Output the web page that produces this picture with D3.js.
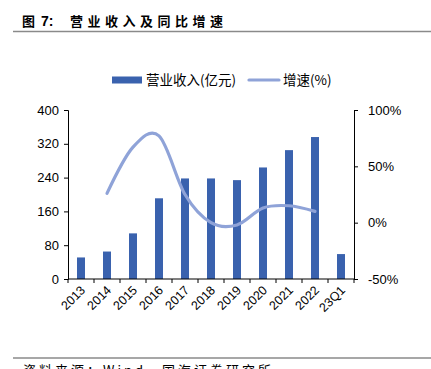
<!DOCTYPE html>
<html>
<head>
<meta charset="utf-8">
<script src="https://cdn.jsdelivr.net/npm/d3@7"></script>
<style>
  body { margin: 0; background: #fff; }
  svg { display: block; }
  .tick text { font-family: "Liberation Sans", Arial, sans-serif; font-size: 13px; fill: #000; }
  .domain, .tick line { stroke: #000; }
</style>
</head>
<body>
<div id="chart"></div>
<script>
var categories = ["2013", "2014", "2015", "2016", "2017", "2018", "2019", "2020", "2021", "2022", "23Q1"];
var revenue = [51, 65, 108, 191, 238, 238, 234, 264, 305, 336, 59];
var growth = [null, 26, 67, 77, 25, 0, -2, 13, 15, 10, null];
var leftTicks = [0, 80, 160, 240, 320, 400];
var rightTicks = [-50, 0, 50, 100];

var svgWidth = 431;
var svgHeight = 369;
var margin = { top: 110, right: 77, bottom: 90, left: 68 };
var width = svgWidth - margin.left - margin.right;
var height = svgHeight - margin.top - margin.bottom;

var cjk = "'Noto Sans CJK SC', sans-serif";

var svg = d3.select("#chart")
  .append("svg")
  .attr("width", svgWidth)
  .attr("height", svgHeight);

// title + rule
svg.append("text")
  .attr("x", 22)
  .attr("y", 26)
  .attr("font-family", cjk)
  .attr("font-weight", "bold")
  .attr("font-size", 13)
  .text("图");
svg.append("text")
  .attr("x", 41)
  .attr("y", 26)
  .attr("font-family", "'Liberation Sans', Arial, sans-serif")
  .attr("font-weight", "bold")
  .attr("font-size", 14)
  .text("7:");
svg.append("text")
  .attr("x", 70)
  .attr("y", 26)
  .attr("font-family", cjk)
  .attr("font-weight", "bold")
  .attr("font-size", 13)
  .attr("letter-spacing", 4.5)
  .text("营业收入及同比增速");

svg.append("line")
  .attr("x1", 13).attr("x2", 431)
  .attr("y1", 31.5).attr("y2", 31.5)
  .attr("stroke", "#8a8a8a")
  .attr("stroke-width", 1.5);

// footer
svg.append("line")
  .attr("x1", 13).attr("x2", 431)
  .attr("y1", 358).attr("y2", 358)
  .attr("stroke", "#8a8a8a")
  .attr("stroke-width", 1.5);

svg.append("text")
  .attr("x", 23)
  .attr("y", 375)
  .attr("font-family", cjk)
  .attr("font-size", 13)
  .attr("letter-spacing", 3)
  .text("资料来源：Wind，国海证券研究所");

var chartGroup = svg.append("g")
  .attr("transform", `translate(${margin.left}, ${margin.top})`);

var xScale = d3.scaleBand()
  .domain(categories)
  .range([0, width]);

var yLeft = d3.scaleLinear()
  .domain([0, 400])
  .range([height, 0]);

var yRight = d3.scaleLinear()
  .domain([-50, 100])
  .range([height, 0]);

// bars
var barWidth = 8;
chartGroup.selectAll("rect.bar")
  .data(revenue)
  .enter()
  .append("rect")
  .attr("class", "bar")
  .attr("x", (d, i) => xScale(categories[i]) + xScale.bandwidth() / 2 - barWidth / 2)
  .attr("y", d => yLeft(d))
  .attr("width", barWidth)
  .attr("height", d => height - yLeft(d))
  .attr("fill", "#3a62ae");

// growth line
var lineData = growth.map((g, i) => ({ cat: categories[i], v: g })).filter(d => d.v !== null);
var line = d3.line()
  .x(d => xScale(d.cat) + xScale.bandwidth() / 2)
  .y(d => yRight(d.v))
  .curve(d3.curveCatmullRom.alpha(0));

chartGroup.append("path")
  .datum(lineData)
  .attr("d", line)
  .attr("fill", "none")
  .attr("stroke", "#8fa3d8")
  .attr("stroke-width", 3.2)
  .attr("stroke-linecap", "round");

// axes
var leftAxis = d3.axisLeft(yLeft).tickValues(leftTicks).tickSize(4).tickPadding(5);
chartGroup.append("g").call(leftAxis);

var rightAxis = d3.axisRight(yRight).tickValues(rightTicks).tickSize(4).tickPadding(10)
  .tickFormat(d => d + "%");
chartGroup.append("g")
  .attr("transform", `translate(${width}, 0)`)
  .call(rightAxis);

// bottom axis: ticks at category boundaries
var bottom = chartGroup.append("g")
  .attr("transform", `translate(0, ${height})`);
bottom.append("line")
  .attr("x1", 0).attr("x2", width)
  .attr("stroke", "#000");
bottom.selectAll("line.tk")
  .data(d3.range(categories.length + 1))
  .enter()
  .append("line")
  .attr("class", "tk")
  .attr("x1", i => i * xScale.step())
  .attr("x2", i => i * xScale.step())
  .attr("y1", 0).attr("y2", 4)
  .attr("stroke", "#000");

bottom.selectAll("text.xl")
  .data(categories)
  .enter()
  .append("text")
  .attr("class", "xl")
  .attr("text-anchor", "end")
  .attr("font-family", "'Liberation Sans', Arial, sans-serif")
  .attr("font-size", 12.5)
  .attr("transform", d => `translate(${xScale(d) + xScale.bandwidth() / 2 + 5}, 12) rotate(-45)`)
  .text(d => d);

// legend
var legend = svg.append("g").attr("transform", "translate(0, 80)");
legend.append("rect")
  .attr("x", 112).attr("y", -3.5)
  .attr("width", 30).attr("height", 7)
  .attr("fill", "#3a62ae");
legend.append("text")
  .attr("x", 146).attr("y", 5)
  .attr("font-family", cjk)
  .attr("font-size", 13.5)
  .text("营业收入(亿元)");
legend.append("line")
  .attr("x1", 249).attr("x2", 279)
  .attr("y1", 0).attr("y2", 0)
  .attr("stroke", "#8fa3d8")
  .attr("stroke-width", 3.2)
  .attr("stroke-linecap", "round");
legend.append("text")
  .attr("x", 283).attr("y", 5)
  .attr("font-family", cjk)
  .attr("font-size", 13.5)
  .text("增速(%)");
</script>
</body>
</html>
